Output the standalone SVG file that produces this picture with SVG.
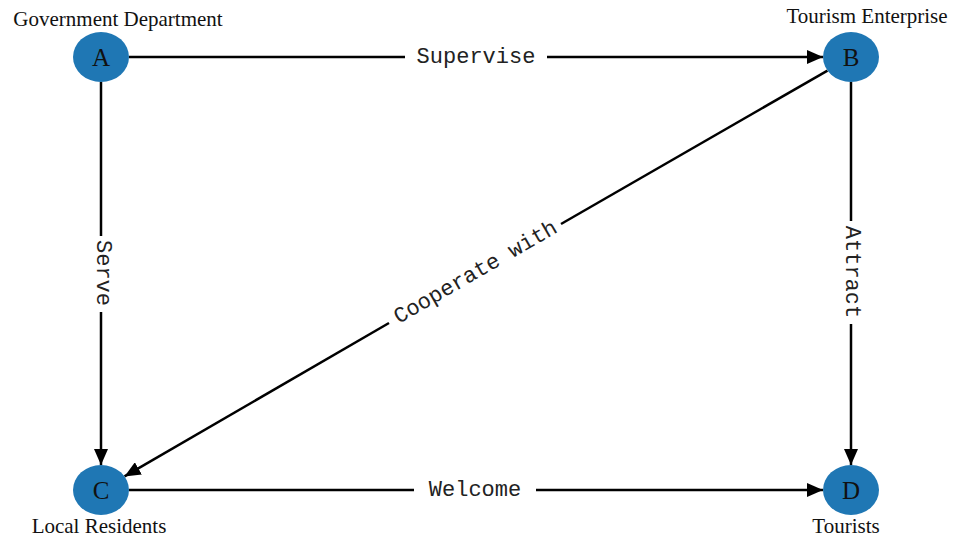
<svg xmlns="http://www.w3.org/2000/svg" width="953" height="537" viewBox="0 0 953 537">
<style>
.node{fill:#1f77b4;}
.nl{font-family:"Liberation Serif",serif;font-size:25px;fill:#111;text-anchor:middle;dominant-baseline:central;}
.cap{font-family:"Liberation Serif",serif;font-size:21px;fill:#111;text-anchor:middle;}
.el{font-family:"Liberation Mono",monospace;font-size:22px;fill:#222;text-anchor:middle;dominant-baseline:central;}
.e{stroke:#000;stroke-width:2.5;fill:none;}
</style>
<defs>
<marker id="arr" markerUnits="userSpaceOnUse" markerWidth="16" markerHeight="14" viewBox="0 0 16 14" refX="16" refY="7" orient="auto">
<path d="M0,0 L16,7 L0,14 Z" fill="#000"/>
</marker>
</defs>
<rect width="953" height="537" fill="#fff"/>
<g id="connectors">
<g id="edge-AB">
<line class="e" x1="129" y1="57" x2="405" y2="57"/>
<line class="e" x1="547" y1="57" x2="823" y2="57" marker-end="url(#arr)"/>
<text class="el" x="476" y="57">Supervise</text>
</g>
<g id="edge-AC">
<line class="e" x1="101" y1="82" x2="101" y2="236"/>
<line class="e" x1="101" y1="312" x2="101" y2="465" marker-end="url(#arr)"/>
<text class="el" transform="translate(102,273) rotate(90)">Serve</text>
</g>
<g id="edge-BD">
<line class="e" x1="851" y1="82" x2="851" y2="221"/>
<line class="e" x1="851" y1="324" x2="851" y2="465" marker-end="url(#arr)"/>
<text class="el" transform="translate(851,272) rotate(90)">Attract</text>
</g>
<g id="edge-BC">
<line class="e" x1="827.5" y1="70.6" x2="561" y2="224"/>
<line class="e" x1="389" y1="323" x2="124.5" y2="476.4" marker-end="url(#arr)"/>
<text class="el" transform="translate(476,273) rotate(-30)">Cooperate with</text>
</g>
<g id="edge-CD">
<line class="e" x1="129" y1="490" x2="414" y2="490"/>
<line class="e" x1="536" y1="490" x2="823" y2="490" marker-end="url(#arr)"/>
<text class="el" x="475" y="490">Welcome</text>
</g>
</g>
<g id="node-A">
<ellipse class="node" cx="101" cy="57" rx="28" ry="25"/>
<text class="nl" x="101" y="57">A</text>
<text class="cap" x="118" y="26">Government Department</text>
</g>
<g id="node-B">
<ellipse class="node" cx="851" cy="57" rx="28" ry="25"/>
<text class="nl" x="851" y="57">B</text>
<text class="cap" x="867" y="23">Tourism Enterprise</text>
</g>
<g id="node-C">
<ellipse class="node" cx="101" cy="490" rx="28" ry="25"/>
<text class="nl" x="101" y="490">C</text>
<text class="cap" x="99" y="533">Local Residents</text>
</g>
<g id="node-D">
<ellipse class="node" cx="851" cy="490" rx="28" ry="25"/>
<text class="nl" x="851" y="490">D</text>
<text class="cap" x="846" y="533">Tourists</text>
</g>
</svg>
